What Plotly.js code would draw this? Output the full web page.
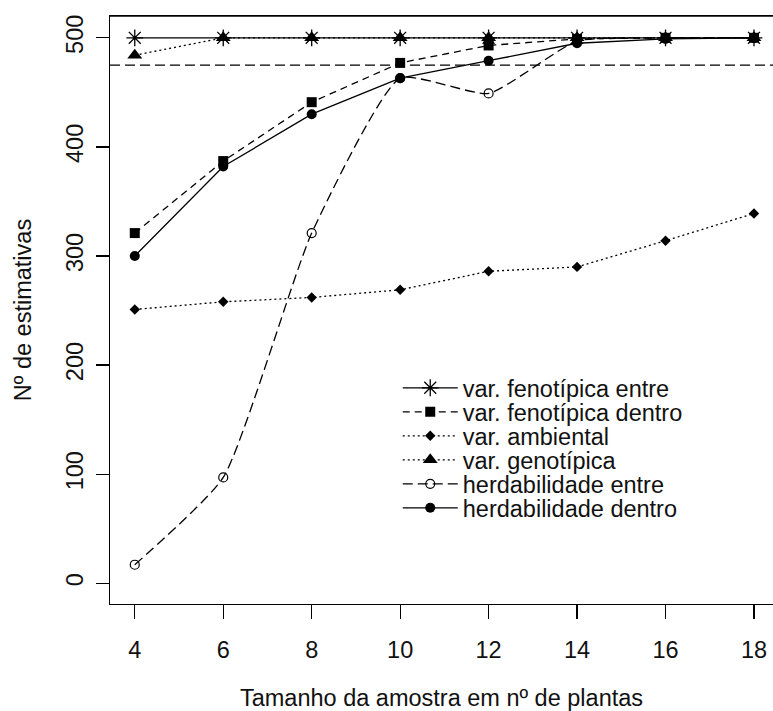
<!DOCTYPE html>
<html>
<head>
<meta charset="utf-8">
<script src="https://cdn.plot.ly/plotly-3.0.1.min.js"></script>
<style>body{margin:0;padding:0;background:#fff;} #chart{width:773px;height:711px;}</style>
</head>
<body>
<div id="chart"></div>
<script>
const sampleSizes = [4, 6, 8, 10, 12, 14, 16, 18];
const varFenEntre = [500, 500, 500, 500, 500, 500, 500, 500];
const varFenDentro = [321, 387, 441, 477, 493, 499, 500, 500];
const varAmbiental = [251, 258, 262, 269, 286, 290, 314, 339];
const varGenotipica = [484, 500, 500, 500, 500, 500, 500, 500];
const herdEntre = [17, 97, 321, 463, 449, 497, 500, 500];
const herdDentro = [300, 382, 430, 463, 479, 495, 499, 500];
const refLine = 475;
const seriesNames = ["var. fenotípica entre", "var. fenotípica dentro", "var. ambiental", "var. genotípica", "herdabilidade entre", "herdabilidade dentro"];
const xTicks = [4, 6, 8, 10, 12, 14, 16, 18];
const yTicks = [0, 100, 200, 300, 400, 500];

const FONT = "Liberation Sans, Arial, sans-serif";
const FS = 23.5;
const black = "#000";
const txt = "#111";

function tr(i, y, dash, symbol, size, extra) {
  const legendId = i === 0 ? "legend" : "legend" + (i + 1);
  return {
    x: sampleSizes, y: y, name: seriesNames[i], type: "scatter", mode: "lines+markers",
    legend: legendId,
    line: Object.assign({color: black, width: 1.3, dash: dash}, (extra && extra.line) || {}),
    marker: Object.assign({symbol: symbol, size: size, color: black, line: {color: black, width: 1.2}}, (extra && extra.marker) || {})
  };
}

const data = [
  tr(0, varFenEntre, "solid", "asterisk-open", 14, {marker: {line: {color: black, width: 1.3}}}),
  tr(1, varFenDentro, "7px,5px", "square", 10, {marker: {line: {width: 0}}}),
  tr(2, varAmbiental, "2px,3px", "diamond", 8, {marker: {line: {width: 0}}}),
  tr(3, varGenotipica, "2px,3px", "triangle-up", 13, {marker: {line: {width: 0}}}),
  tr(4, herdEntre, "10px,5px", "circle-open", 9, {line: {shape: "spline", smoothing: 0.5}, marker: {line: {width: 1.2}}}),
  tr(5, herdDentro, "solid", "circle", 10, {marker: {line: {width: 0}}})
];

// legend rows (pixel centres in the plot area, converted to paper fractions)
const plotTop = 16, plotBottom = 604;
const rowPx = [388, 412, 436, 460, 484, 508];
function legendAt(py) {
  return {
    x: 0.434, y: (plotBottom - py) / (plotBottom - plotTop), xanchor: "left", yanchor: "middle",
    bgcolor: "rgba(0,0,0,0)", borderwidth: 0, itemwidth: 55,
    font: {family: FONT, size: FS, color: txt}
  };
}

const layout = {
  width: 773, height: 711,
  margin: {l: 110, r: 0, t: plotTop, b: 711 - plotBottom},
  paper_bgcolor: "#fff", plot_bgcolor: "#fff",
  font: {family: FONT, size: FS, color: txt},
  showlegend: true,
  xaxis: {
    range: [3.44, 18.43], tickvals: xTicks, ticktext: xTicks.map(String),
    ticks: "outside", ticklen: 14, tickwidth: 1.3, tickcolor: black,
    showline: true, linecolor: black, linewidth: 1.3, mirror: true,
    showgrid: false, zeroline: false, ticklabelstandoff: 10,
    tickfont: {family: FONT, size: FS, color: txt},
    title: {text: "Tamanho da amostra em nº de plantas", font: {family: FONT, size: FS, color: txt}, standoff: 34}
  },
  yaxis: {
    range: [-19, 520], tickvals: yTicks, ticktext: yTicks.map(String),
    ticks: "outside", ticklen: 13, tickwidth: 1.3, tickcolor: black, tickangle: -90,
    showline: true, linecolor: black, linewidth: 1.3, mirror: false,
    showgrid: false, zeroline: false, ticklabelstandoff: 3,
    tickfont: {family: FONT, size: FS, color: txt},
    title: {text: "Nº de estimativas", font: {family: FONT, size: FS, color: txt}, standoff: 24}
  },
  shapes: [
    {type: "line", xref: "paper", x0: 0, x1: 1, yref: "y", y0: refLine, y1: refLine,
     line: {color: black, width: 1.3, dash: "10px,5px"}},
    {type: "line", xref: "paper", x0: 0, x1: 1, yref: "paper", y0: 1, y1: 1,
     line: {color: black, width: 1.3}}
  ]
};
rowPx.forEach(function (py, i) {
  layout[i === 0 ? "legend" : "legend" + (i + 1)] = legendAt(py);
});

Plotly.newPlot("chart", data, layout, {staticPlot: true, displayModeBar: false});
</script>
</body>
</html>
